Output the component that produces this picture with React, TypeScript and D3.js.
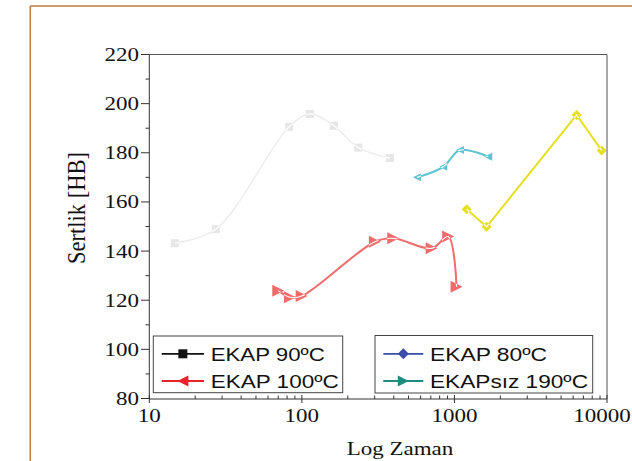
import React from 'react';
import * as d3 from 'd3';

const grayX = [14.7, 27.3, 82.6, 113, 162, 234, 378];
const grayY = [143.2, 148.9, 190.6, 195.8, 191.0, 182.1, 177.8];
const redX = [70, 83.6, 99.7, 301, 397, 709, 910, 1033];
const redY = [123.9, 121.2, 121.7, 143.8, 145.2, 141.1, 145.9, 125.5];
const cyanX = [568, 845, 1087, 1664];
const cyanY = [170.0, 174.3, 181.1, 178.4];
const yellowX = [1203, 1626, 6325, 9230];
const yellowY = [157.0, 149.9, 195.4, 180.9];

const xTickValues = [10, 100, 1000, 10000];
const xTickLabels = ['10', '100', '1000', '10000'];
const yTickValues = [80, 100, 120, 140, 160, 180, 200, 220];
const yMinorValues = [90, 110, 130, 150, 170, 190, 210];
const legendLabels = ['EKAP 90ºC', 'EKAP 100ºC', 'EKAP 80ºC', 'EKAPsız 190ºC'];
const legendColors = ['#111111', '#e8232b', '#3a4da8', '#1b8c7e'];
const legendSymbols = ['square', 'triLeft', 'diamond', 'triRight'];
const legendTextWidths = [114, 128, 117, 158];

const W = 632;
const H = 461;
const x = d3.scaleLog().domain([10, 10000]).range([149.3, 607]);
const y = d3.scaleLinear().domain([80, 220]).range([398.5, 54.5]);

function markerPath(kind: string, cx: number, cy: number, s: number): string {
  const h = s / 2;
  if (kind === 'square') return `M${cx - h},${cy - h}H${cx + h}V${cy + h}H${cx - h}Z`;
  if (kind === 'triRight') return `M${cx - h},${cy - h}L${cx + h},${cy}L${cx - h},${cy + h}Z`;
  if (kind === 'triLeft') return `M${cx + h},${cy - h}L${cx - h},${cy}L${cx + h},${cy + h}Z`;
  return `M${cx},${cy - h}L${cx + h},${cy}L${cx},${cy + h}L${cx - h},${cy}Z`;
}

type Series = { id: string; xs: number[]; ys: number[]; color: string; mcolor: string; kind: string; size: number; curve: any; width: number };

const series: Series[] = [
  { id: 'g', xs: grayX, ys: grayY, color: '#ededed', mcolor: '#e6e6e6', kind: 'square', size: 8, curve: d3.curveCatmullRom, width: 1.5 },
  { id: 'r', xs: redX, ys: redY, color: '#f06b6b', mcolor: '#f06b6b', kind: 'triRight', size: 12, curve: d3.curveCatmullRom, width: 2 },
  { id: 'c', xs: cyanX, ys: cyanY, color: '#5cc3d3', mcolor: '#5cc3d3', kind: 'triLeft', size: 8, curve: d3.curveCatmullRom, width: 2 },
  { id: 'y', xs: yellowX, ys: yellowY, color: '#e6df22', mcolor: '#e6df22', kind: 'diamond', size: 10, curve: d3.curveLinear, width: 2 },
];

export default function App() {
  const serif = '"Liberation Serif", "Times New Roman", serif';
  const sans = '"Liberation Sans", Arial, sans-serif';
  const minorX: number[] = [];
  [10, 100, 1000].forEach((d) => {
    for (let k = 2; k <= 9; k++) minorX.push(d * k);
  });
  return (
    <svg width={W} height={H} style={{ position: 'absolute', left: 0, top: 0, background: '#fff' }}>
      <rect x={0} y={0} width={W} height={H} fill="#fff" />
      {/* page border */}
      <line x1={30.2} y1={6} x2={W} y2={6} stroke="#c27a3a" strokeWidth={1.5} />
      <line x1={30.2} y1={6} x2={30.2} y2={H} stroke="#c27a3a" strokeWidth={1.5} />

      <defs>
        {series.map((s) => (
          <clipPath id={`clip-${s.id}`} key={s.id}>
            {s.xs.map((v, i) => (
              <path key={i} d={markerPath(s.kind, x(v), y(s.ys[i]), s.size)} />
            ))}
          </clipPath>
        ))}
      </defs>

      {series.map((s) => {
        const pts: [number, number][] = s.xs.map((v, i) => [x(v), y(s.ys[i])]);
        const line = d3.line().curve(s.curve)(pts) || '';
        return (
          <g key={s.id}>
            <path d={line} fill="none" stroke={s.color} strokeWidth={s.width} />
            {pts.map((p, i) => (
              <path key={i} d={markerPath(s.kind, p[0], p[1], s.size)} fill={s.mcolor} />
            ))}
            <path d={line} fill="none" stroke="#fff" strokeWidth={1.2} clipPath={`url(#clip-${s.id})`} />
          </g>
        );
      })}

      {/* frame */}
      <line x1={149.3} y1={54.5} x2={607} y2={54.5} stroke="#555" strokeWidth={1} />
      <line x1={607} y1={54.5} x2={607} y2={399} stroke="#555" strokeWidth={1} />
      <line x1={149.3} y1={54.5} x2={149.3} y2={399} stroke="#333" strokeWidth={1} />
      <line x1={149.3} y1={399} x2={607} y2={399} stroke="#333" strokeWidth={1} />

      {/* y ticks */}
      {yTickValues.map((v) => (
        <g key={v}>
          <line x1={141} x2={149.3} y1={y(v)} y2={y(v)} stroke="#333" strokeWidth={1} />
          <g transform={`translate(139,${y(v) + 6.5}) scale(1.18,1)`}>
            <text textAnchor="end" fontFamily={serif} fontSize={19.5} fill="#111">{v}</text>
          </g>
        </g>
      ))}
      {yMinorValues.map((v) => (
        <line key={v} x1={145.5} x2={149.3} y1={y(v)} y2={y(v)} stroke="#333" strokeWidth={1} />
      ))}

      {/* x ticks */}
      {xTickValues.map((v, i) => (
        <g key={v}>
          <line x1={x(v)} x2={x(v)} y1={395} y2={403} stroke="#333" strokeWidth={1} />
          <g transform={`translate(${Math.min(x(v), 602)},${422}) scale(1.18,1)`}>
            <text textAnchor="middle" fontFamily={serif} fontSize={19.5} fill="#111">{xTickLabels[i]}</text>
          </g>
        </g>
      ))}
      {minorX.map((v) => (
        <line key={v} x1={x(v)} x2={x(v)} y1={395.5} y2={399} stroke="#333" strokeWidth={1} />
      ))}

      {/* axis titles */}
      <g transform={`translate(400,455) scale(1.18,1)`}>
        <text textAnchor="middle" fontFamily={serif} fontSize={19.5} fill="#111">Log Zaman</text>
      </g>
      <g transform={`translate(85,208) rotate(-90) scale(1,1.1)`}>
        <text textAnchor="middle" fontFamily={serif} fontSize={22.5} fill="#111">Sertlik [HB]</text>
      </g>

      {/* legends */}
      <rect x={153.3} y={336} width={189.4} height={56.7} fill="#fff" stroke="#444" strokeWidth={1} />
      <rect x={375} y={335.5} width={217.7} height={57.5} fill="#fff" stroke="#444" strokeWidth={1} />
      {legendLabels.map((lab, i) => {
        const box = i < 2 ? 0 : 1;
        const row = i % 2;
        const lx0 = box === 0 ? 161.7 : 383.3;
        const lx1 = box === 0 ? 204 : 423.3;
        const tx = box === 0 ? 210.7 : 430;
        const ly = row === 0 ? 353.8 : 381;
        const mx = (lx0 + lx1) / 2;
        return (
          <g key={lab}>
            <line x1={lx0} x2={lx1} y1={ly} y2={ly} stroke={legendColors[i]} strokeWidth={1.8} />
            <path d={markerPath(legendSymbols[i], mx, ly, legendSymbols[i] === 'square' ? 9 : 11)} fill={legendColors[i]} />
            <text x={tx} y={ly + 7} fontFamily={sans} fontSize={19} fill="#111" textLength={legendTextWidths[i]} lengthAdjust="spacingAndGlyphs">{lab}</text>
          </g>
        );
      })}
    </svg>
  );
}
